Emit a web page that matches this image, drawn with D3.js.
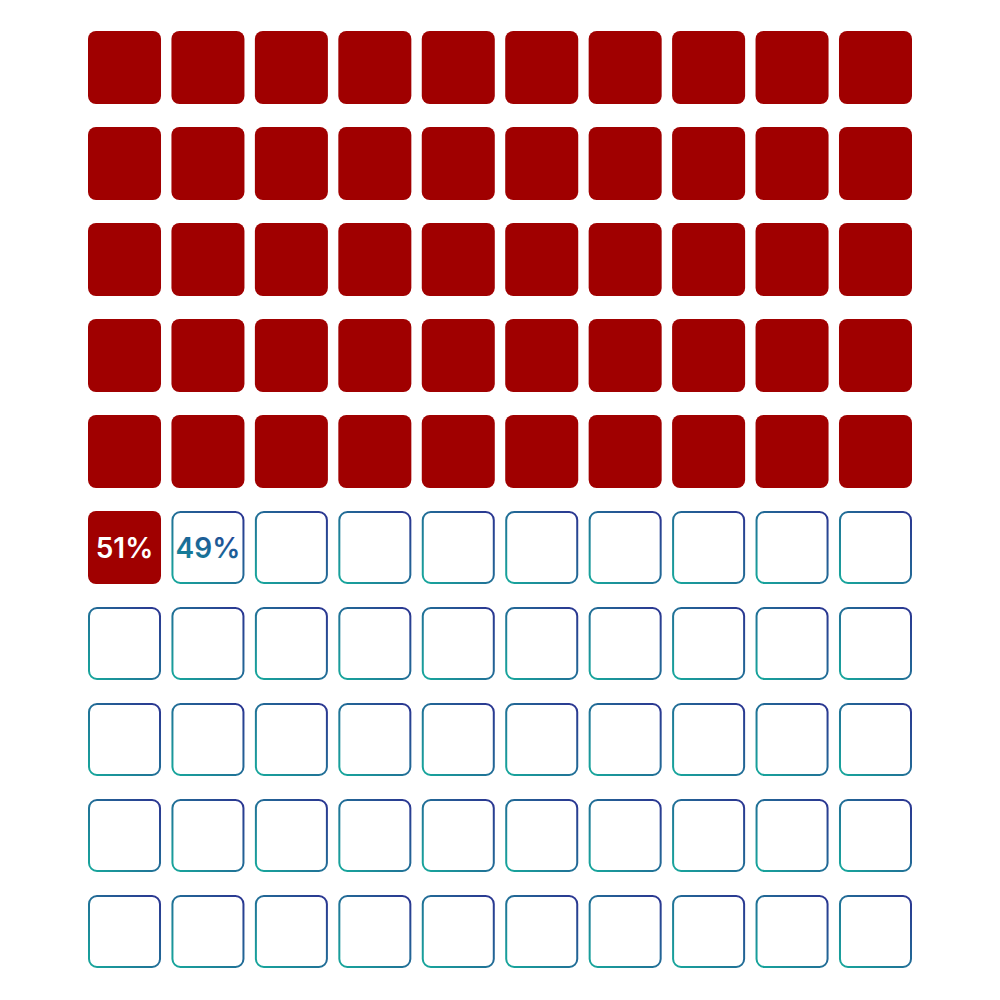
<!DOCTYPE html>
<html><head><meta charset="utf-8">
<script src="https://cdn.jsdelivr.net/npm/d3@7"></script>
<style>html,body{margin:0;padding:0;background:#fff;}</style>
</head><body>
<svg id="chart" width="1000" height="1000"></svg>
<script>
const categories = ["Group A", "Group B"];
const values = [51, 49];
const labels = ["51%", "49%"];
const cols = d3.range(10);
const rows = d3.range(10);

const svg = d3.select("#chart");
const x = d3.scaleBand().domain(cols).range([88, 912]).paddingInner(0.125).paddingOuter(0);
const y = d3.scaleBand().domain(rows).range([31, 968]).paddingInner(0.2396).paddingOuter(0);

const defs = svg.append("defs");
const g1 = defs.append("linearGradient").attr("id", "grad")
  .attr("x1", "0").attr("y1", "1").attr("x2", "1").attr("y2", "0");
g1.append("stop").attr("offset", "0%").attr("stop-color", "#17a89c");
g1.append("stop").attr("offset", "100%").attr("stop-color", "#2b3491");
const g2 = defs.append("linearGradient").attr("id", "gradText")
  .attr("x1", "0").attr("y1", "1").attr("x2", "1").attr("y2", "0");
g2.append("stop").attr("offset", "0%").attr("stop-color", "#128f98");
g2.append("stop").attr("offset", "100%").attr("stop-color", "#243f96");

const cells = d3.range(100).map(i => ({
  i, col: i % 10, row: Math.floor(i / 10), cat: i < values[0] ? 0 : 1
}));

svg.append("g").selectAll("rect").data(cells).join("rect")
  .attr("x", d => d.cat === 0 ? x(d.col) : x(d.col) + 1)
  .attr("y", d => d.cat === 0 ? y(d.row) : y(d.row) + 1)
  .attr("width", d => d.cat === 0 ? x.bandwidth() : x.bandwidth() - 2)
  .attr("height", d => d.cat === 0 ? y.bandwidth() : y.bandwidth() - 2)
  .attr("rx", 8).attr("ry", 8)
  .attr("fill", d => d.cat === 0 ? "#a00000" : "#fff")
  .attr("stroke", d => d.cat === 0 ? "none" : "url(#grad)")
  .attr("stroke-width", 2);

// labels: on the last filled cell and first empty cell
const labelCells = [cells[values[0] - 1], cells[values[0]]];
svg.append("g").selectAll("text").data(labelCells).join("text")
  .attr("x", d => x(d.col) + x.bandwidth() / 2)
  .attr("y", d => y(d.row) + y.bandwidth() / 2)
  .attr("dy", "0.37em")
  .attr("text-anchor", "middle")
  .attr("font-family", "Inter, Lato, sans-serif")
  .attr("font-weight", 600)
  .attr("font-size", 28)
  .attr("fill", (d, k) => k === 0 ? "#ffffff" : "url(#gradText)")
  .text((d, k) => labels[k]);
</script>
</body></html>
